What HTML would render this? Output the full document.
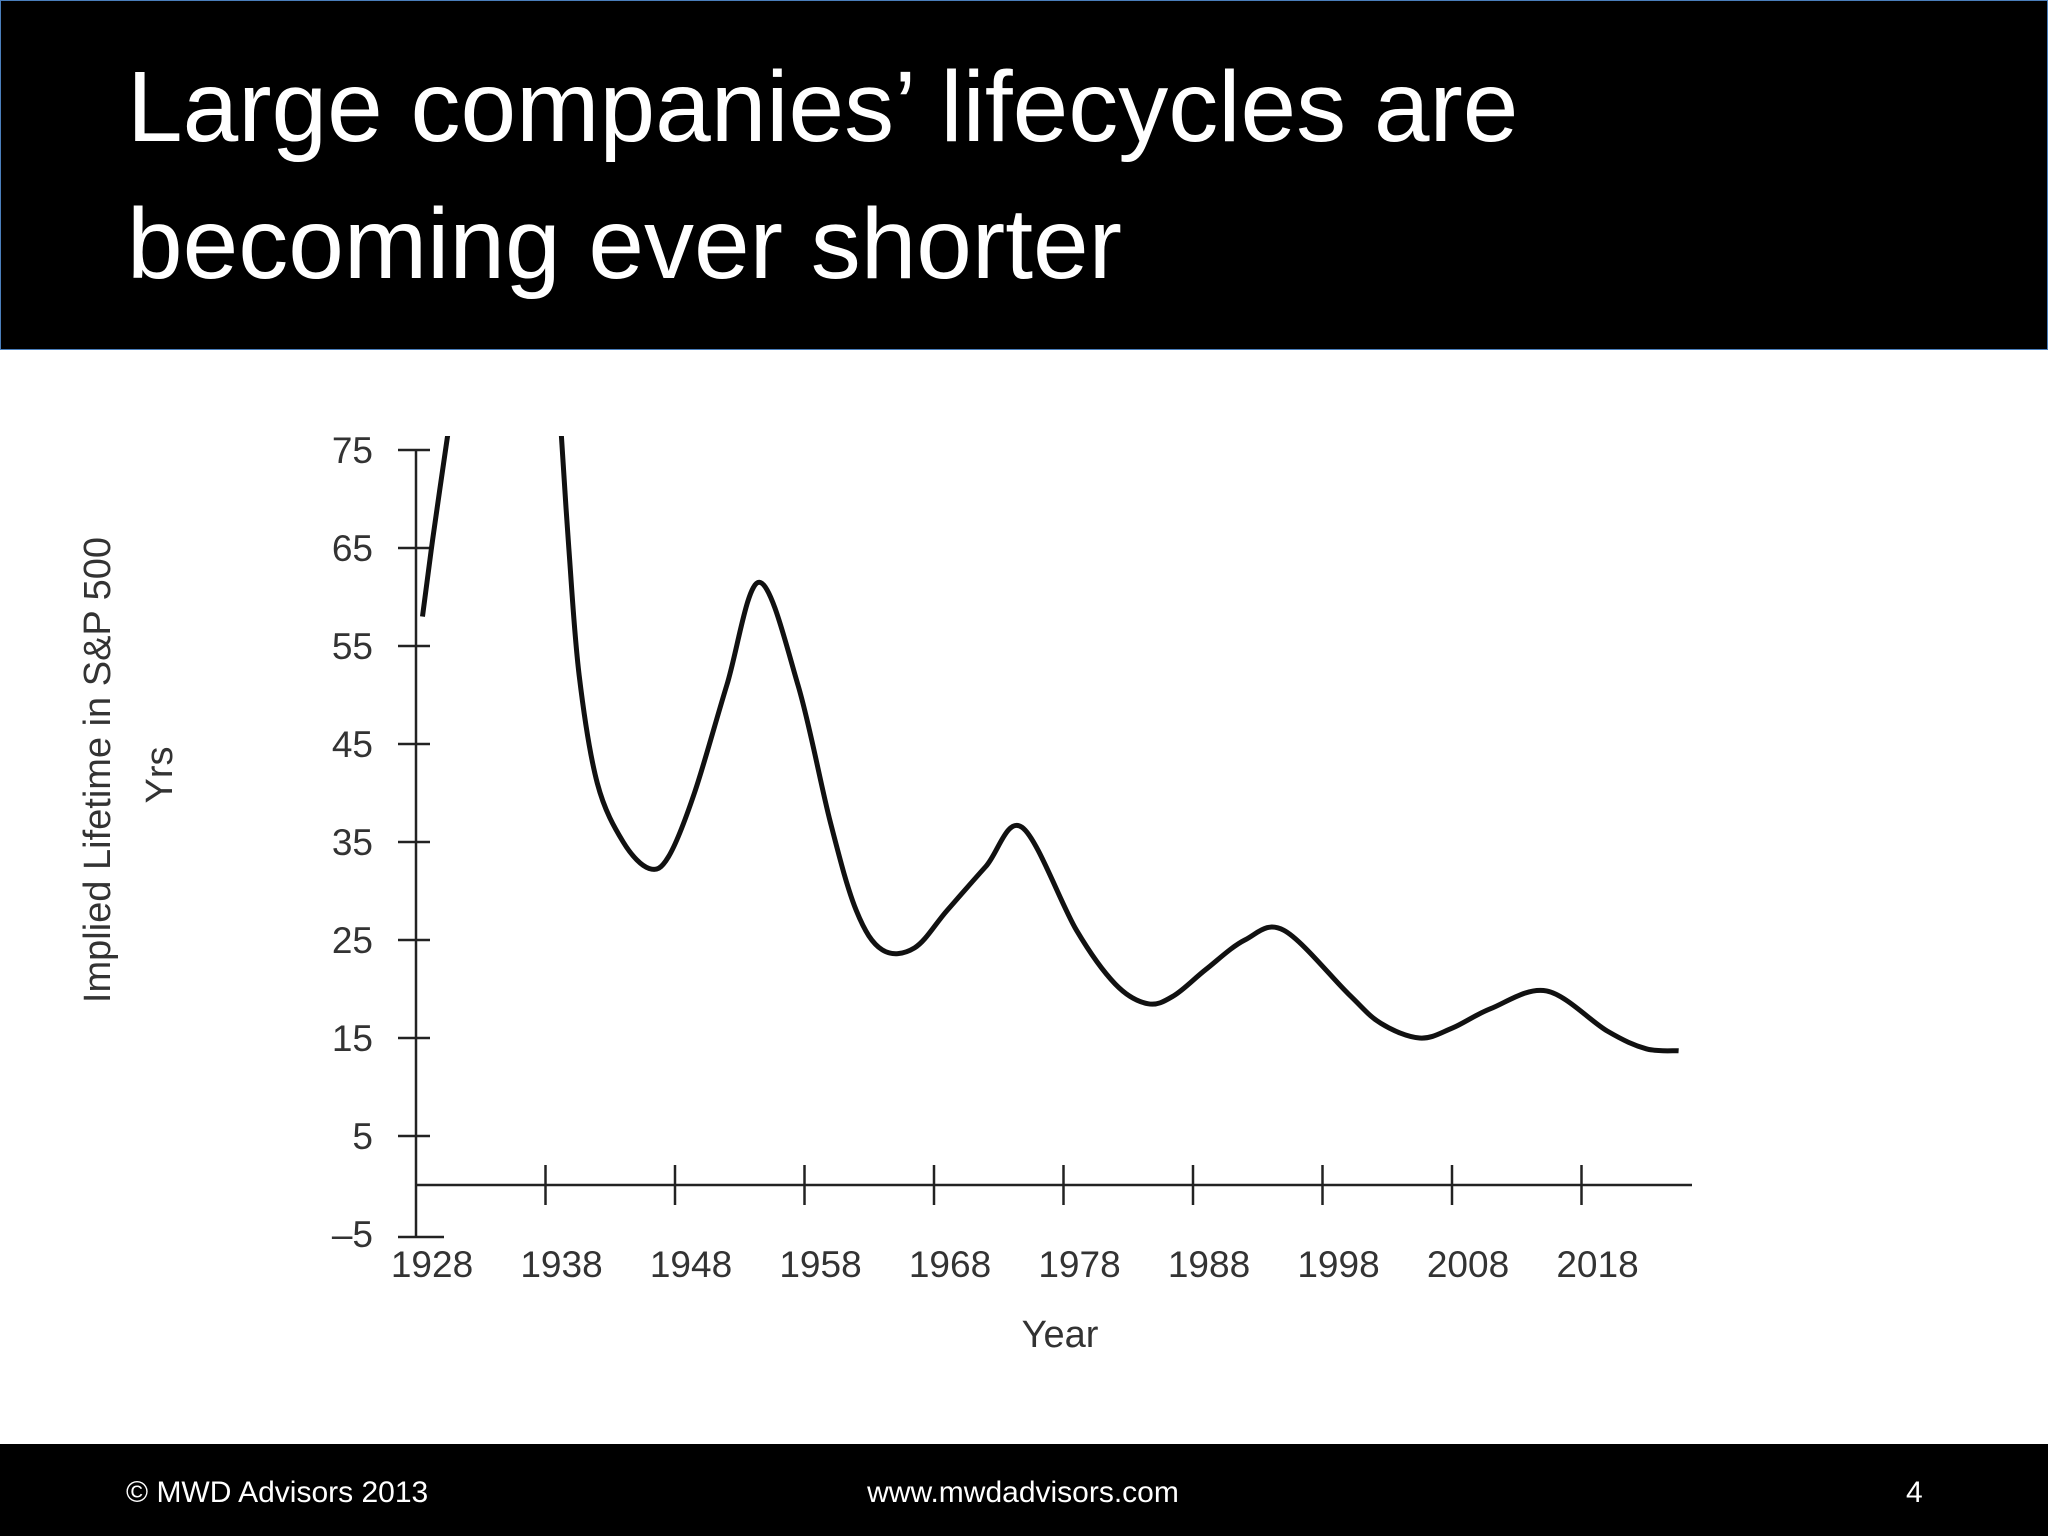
<!DOCTYPE html>
<html><head><meta charset="utf-8"><style>
body{margin:0;width:2048px;height:1536px;background:#fff;overflow:hidden;font-family:"Liberation Sans",sans-serif}
#hdr{position:absolute;left:0;top:0;width:2046px;height:348px;background:#000;border:1px solid #4a7ebb}
#title{position:absolute;left:126px;top:38px;color:#fff;font-size:100px;line-height:137px;letter-spacing:0px}
#ftr{position:absolute;left:0;top:1444px;width:2048px;height:92px;background:#000;color:#fff;font-size:30px}
#ftr div{position:absolute;top:32px}
</style></head><body>
<div id="hdr"><div id="title">Large companies’ lifecycles are<br>becoming ever shorter</div></div>
<svg id="chart" width="2048" height="1536" style="position:absolute;left:0;top:0" font-family="Liberation Sans, sans-serif" fill="#333"></svg>
<div id="ftr">
<div style="left:126px">© MWD Advisors 2013</div>
<div style="left:0;width:2046px;text-align:center">www.mwdadvisors.com</div>
<div style="left:1906px">4</div>
</div>
<script>
const yTicks=[75,65,55,45,35,25,15,5,-5];
const xTicks=[1928,1938,1948,1958,1968,1978,1988,1998,2008,2018];
const seg1Years=[1928.5,1929.3,1930.5];
const seg1Values=[58,66,77];
const seg2Years=[1939.2,1939.8,1940.6,1942,1944,1946,1947.5,1949.5,1952,1954.5,1957.5,1960,1962,1964,1966.5,1969,1972,1974.8,1979,1982,1984.5,1986.5,1989,1992,1995,2000,2002.5,2005.5,2008,2011,2015.3,2020,2023,2025.5];
const seg2Values=[77,65,52,41,35,32.3,33.5,40,51,61.5,51,37,28,24,24.2,28,32.5,36.5,26,20.5,18.5,19.3,22,25,26,19.5,16.5,15,16,18,19.8,15.7,13.9,13.7];
const svg=document.getElementById('chart');const NS='http://www.w3.org/2000/svg';
const X=y=>416+12.95*(y-1928), Y=v=>1185-9.8*v;
function mk(t,a,p){const e=document.createElementNS(NS,t);for(const k in a)e.setAttribute(k,a[k]);(p||svg).appendChild(e);return e;}
const ax=mk('g',{stroke:'#222','stroke-width':2.5});


mk('line',{x1:416,y1:450,x2:416,y2:1236},ax);
mk('line',{x1:416,y1:Y(0),x2:1692,y2:Y(0)},ax);
yTicks.forEach(v=>{const w=v==-5?14:0;mk('line',{x1:398,y1:Y(v)+(v==-5?3:0),x2:430+w,y2:Y(v)+(v==-5?3:0)},ax);
const t=mk('text',{x:373,y:Y(v)+13,'text-anchor':'end','font-size':37});t.textContent=v==-5?'–5':v;

});
xTicks.forEach(y=>{if(y>1928)mk('line',{x1:X(y),y1:Y(0)-20,x2:X(y),y2:Y(0)+20},ax);
const t=mk('text',{x:X(y)+16,y:1277,'text-anchor':'middle','font-size':37});t.textContent=y;

});
let t=mk('text',{x:1060,y:1347,'text-anchor':'middle','font-size':38});t.textContent='Year';


t=mk('text',{transform:'translate(110,770) rotate(-90)','text-anchor':'middle','font-size':38});t.textContent='Implied Lifetime in S&P 500';


t=mk('text',{transform:'translate(172,775) rotate(-90)','text-anchor':'middle','font-size':38});t.textContent='Yrs';


const cp=mk('clipPath',{id:'c'});mk('rect',{x:400,y:436,width:1400,height:800},cp);
function path(ys,vs){const p=ys.map((y,i)=>[X(y),Y(vs[i])]);let d='M'+p[0];
for(let i=0;i<p.length-1;i++){const a=p[i-1]||p[i],b=p[i],c=p[i+1],e=p[i+2]||c;
d+=` C${b[0]+(c[0]-a[0])/6},${b[1]+(c[1]-a[1])/6} ${c[0]-(e[0]-b[0])/6},${c[1]-(e[1]-b[1])/6} ${c[0]},${c[1]}`;}return d;}
[[seg1Years,seg1Values,'line-segment-early'],[seg2Years,seg2Values,'line-main']].forEach(s=>{
const l=mk('path',{d:path(s[0],s[1]),fill:'none',stroke:'#111','stroke-width':5,'clip-path':'url(#c)','stroke-linejoin':'round'});

});
</script>
</body></html>
